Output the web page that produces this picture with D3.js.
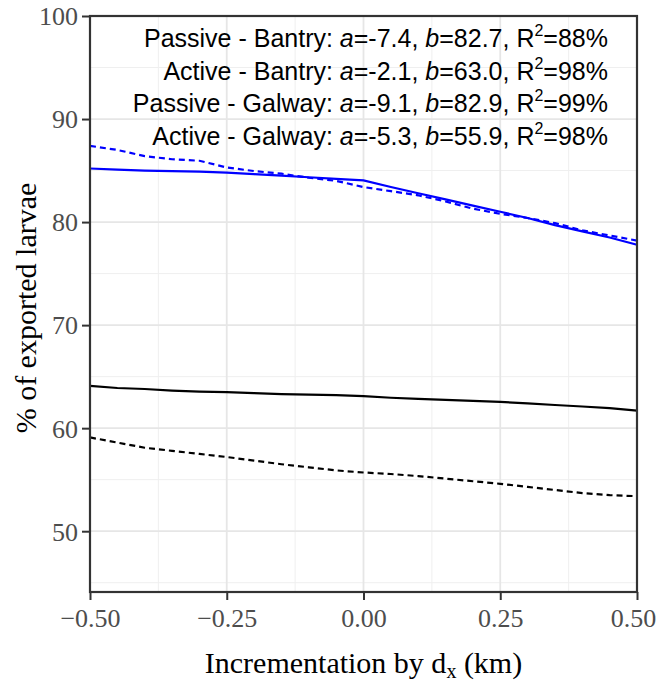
<!DOCTYPE html>
<html>
<head>
<meta charset="utf-8">
<script src="https://cdn.jsdelivr.net/npm/d3@7"></script>
<style>
  body { margin: 0; background: #fff; }
  svg { display: block; }
</style>
</head>
<body>
<div id="chart"></div>
<script>
// increments of dx (km)
const dx = [-0.5, -0.45, -0.4, -0.35, -0.3, -0.25, -0.2, -0.15, -0.1, -0.05, 0,
            0.05, 0.1, 0.15, 0.2, 0.25, 0.3, 0.35, 0.4, 0.45, 0.5];

const passiveBantry = [85.2, 85.1, 85.0, 84.95, 84.9, 84.8, 84.65, 84.5, 84.35, 84.2, 84.05,
                       83.4, 82.8, 82.2, 81.6, 81.0, 80.4, 79.7, 79.1, 78.5, 77.8];
const activeBantry = [64.1, 63.9, 63.8, 63.65, 63.55, 63.5, 63.4, 63.3, 63.25, 63.2, 63.1,
                      62.95, 62.85, 62.75, 62.65, 62.55, 62.4, 62.25, 62.1, 61.95, 61.7];
const passiveGalway = [87.4, 87.0, 86.4, 86.1, 85.95, 85.3, 84.95, 84.7, 84.3, 84.0, 83.4,
                       83.0, 82.6, 82.0, 81.3, 80.8, 80.4, 79.9, 79.2, 78.7, 78.2];
const activeGalway = [59.1, 58.6, 58.1, 57.8, 57.5, 57.2, 56.85, 56.5, 56.2, 55.9, 55.7,
                      55.55, 55.35, 55.1, 54.85, 54.6, 54.3, 54.0, 53.7, 53.5, 53.4];

const xTicks = [-0.5, -0.25, 0, 0.25, 0.5];
const xMinor = [-0.375, -0.125, 0.125, 0.375];
const yTicks = [50, 60, 70, 80, 90, 100];
const yMinor = [45, 55, 65, 75, 85, 95];

const fits = [
  { name: "Passive - Bantry", a: "-7.4", b: "82.7", r2: "88%" },
  { name: "Active - Bantry", a: "-2.1", b: "63.0", r2: "98%" },
  { name: "Passive - Galway", a: "-9.1", b: "82.9", r2: "99%" },
  { name: "Active - Galway", a: "-5.3", b: "55.9", r2: "98%" }
];

const series = [
  { values: passiveBantry, color: "#0000ff", dash: null },
  { values: passiveGalway, color: "#0000ff", dash: "6,4" },
  { values: activeBantry, color: "#000000", dash: null },
  { values: activeGalway, color: "#000000", dash: "6,4" }
];

const width = 656, height = 683;
const margin = { top: 16, right: 19, bottom: 91, left: 90 };
const innerW = width - margin.left - margin.right;
const innerH = height - margin.top - margin.bottom;
const serif = "'Liberation Serif', 'DejaVu Serif', serif";

const svg = d3.select("#chart").append("svg")
  .attr("width", width)
  .attr("height", height);

const g = svg.append("g")
  .attr("transform", `translate(${margin.left},${margin.top})`);

const x = d3.scaleLinear().domain([-0.5, 0.5]).range([0, innerW]);
const y = d3.scaleLinear().domain([44.1, 100]).range([innerH, 0]);

// grid
g.selectAll(".gx-minor").data(xMinor).join("line")
  .attr("x1", d => x(d)).attr("x2", d => x(d))
  .attr("y1", 0).attr("y2", innerH)
  .attr("stroke", "#efefef").attr("stroke-width", 1);
g.selectAll(".gy-minor").data(yMinor).join("line")
  .attr("x1", 0).attr("x2", innerW)
  .attr("y1", d => y(d)).attr("y2", d => y(d))
  .attr("stroke", "#efefef").attr("stroke-width", 1);
g.selectAll(".gx").data(xTicks).join("line")
  .attr("x1", d => x(d)).attr("x2", d => x(d))
  .attr("y1", 0).attr("y2", innerH)
  .attr("stroke", "#e6e6e6").attr("stroke-width", 1.8);
g.selectAll(".gy").data(yTicks).join("line")
  .attr("x1", 0).attr("x2", innerW)
  .attr("y1", d => y(d)).attr("y2", d => y(d))
  .attr("stroke", "#e6e6e6").attr("stroke-width", 1.8);

// lines
const line = d3.line()
  .x((d, i) => x(dx[i]))
  .y(d => y(d));

series.forEach(s => {
  g.append("path")
    .datum(s.values)
    .attr("d", line)
    .attr("fill", "none")
    .attr("stroke", s.color)
    .attr("stroke-width", 2.2)
    .attr("stroke-dasharray", s.dash);
});

// panel border
g.append("rect")
  .attr("width", innerW).attr("height", innerH)
  .attr("fill", "none")
  .attr("stroke", "#333").attr("stroke-width", 2.2);

// axes
const xAxis = g.append("g")
  .attr("transform", `translate(0,${innerH})`)
  .call(d3.axisBottom(x).tickValues(xTicks).tickSize(8).tickPadding(9)
    .tickFormat(d => d3.format(".2f")(d).replace("-", "\u2212")));
const yAxis = g.append("g")
  .call(d3.axisLeft(y).tickValues(yTicks).tickSize(8).tickPadding(4));

[xAxis, yAxis].forEach(ax => {
  ax.select(".domain").remove();
  ax.selectAll(".tick line").attr("stroke", "#333").attr("stroke-width", 2);
  ax.selectAll(".tick text")
    .attr("fill", "#4d4d4d")
    .style("font-family", serif)
    .style("font-size", "26px");
});
yAxis.selectAll(".tick text").attr("dy", "0.34em");
// keep the last x label inside the window edge
xAxis.selectAll(".tick text").filter(d => d === 0.5).attr("dx", -4);

// fit annotations
const ann = g.append("g")
  .style("font-family", "'Liberation Sans', Arial, sans-serif")
  .style("font-size", "25px")
  .attr("fill", "#000");

fits.forEach((f, i) => {
  const t = ann.append("text")
    .attr("x", 518)
    .attr("y", 31 + i * 32.6)
    .attr("text-anchor", "end");
  t.append("tspan").text(f.name + ": ");
  t.append("tspan").attr("font-style", "italic").text("a");
  t.append("tspan").text("=" + f.a + ", ");
  t.append("tspan").attr("font-style", "italic").text("b");
  t.append("tspan").text("=" + f.b + ", R");
  t.append("tspan").attr("dy", -11).style("font-size", "16px").text("2");
  t.append("tspan").attr("dy", 11).text("=" + f.r2);
});

// axis titles
const xt = svg.append("text")
  .attr("x", margin.left + innerW / 2)
  .attr("y", 673)
  .attr("text-anchor", "middle")
  .style("font-family", serif)
  .style("font-size", "30px")
  .attr("fill", "#000");
xt.append("tspan").text("Incrementation by d");
xt.append("tspan").attr("dy", 5).style("font-size", "20px").text("x");
xt.append("tspan").attr("dy", -5).text(" (km)");

svg.append("text")
  .attr("transform", `translate(36,${margin.top + innerH / 2 + 4}) rotate(-90)`)
  .attr("text-anchor", "middle")
  .style("font-family", serif)
  .style("font-size", "30px")
  .attr("fill", "#000")
  .text("% of exported larvae");
</script>
</body>
</html>
